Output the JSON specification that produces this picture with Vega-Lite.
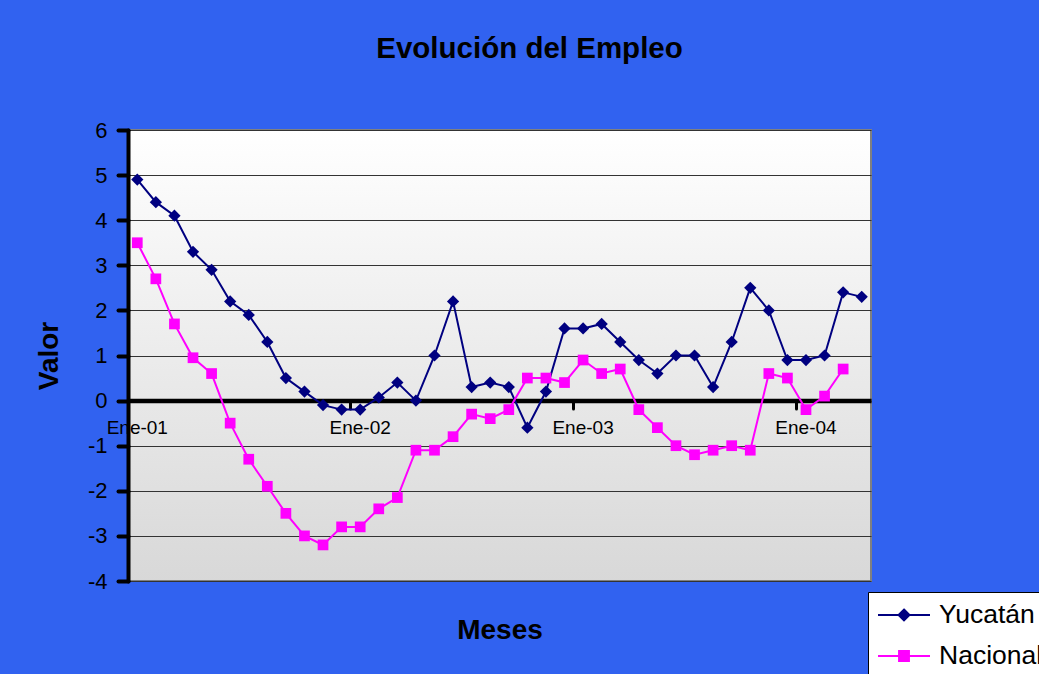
{
  "$schema": "https://vega.github.io/schema/vega-lite/v6.json",
  "width": 743,
  "height": 451,
  "autosize": {"type": "none"},
  "padding": {"left": 128, "top": 130, "right": 168, "bottom": 93},
  "background": "#3162F0",
  "title": {
    "text": "Evolución del Empleo",
    "font": "Liberation Sans",
    "fontSize": 29.5,
    "fontWeight": "bold",
    "color": "#000000",
    "anchor": "middle",
    "dx": 30,
    "offset": 55
  },
  "data": {
    "values": [
      {"mes": "Ene-01", "serie": "Yucatán", "valor": 4.9},
      {"mes": "Feb-01", "serie": "Yucatán", "valor": 4.4},
      {"mes": "Mar-01", "serie": "Yucatán", "valor": 4.1},
      {"mes": "Abr-01", "serie": "Yucatán", "valor": 3.3},
      {"mes": "May-01", "serie": "Yucatán", "valor": 2.9},
      {"mes": "Jun-01", "serie": "Yucatán", "valor": 2.2},
      {"mes": "Jul-01", "serie": "Yucatán", "valor": 1.9},
      {"mes": "Ago-01", "serie": "Yucatán", "valor": 1.3},
      {"mes": "Sep-01", "serie": "Yucatán", "valor": 0.5},
      {"mes": "Oct-01", "serie": "Yucatán", "valor": 0.2},
      {"mes": "Nov-01", "serie": "Yucatán", "valor": -0.1},
      {"mes": "Dic-01", "serie": "Yucatán", "valor": -0.2},
      {"mes": "Ene-02", "serie": "Yucatán", "valor": -0.2},
      {"mes": "Feb-02", "serie": "Yucatán", "valor": 0.07},
      {"mes": "Mar-02", "serie": "Yucatán", "valor": 0.4},
      {"mes": "Abr-02", "serie": "Yucatán", "valor": 0.0},
      {"mes": "May-02", "serie": "Yucatán", "valor": 1.0},
      {"mes": "Jun-02", "serie": "Yucatán", "valor": 2.2},
      {"mes": "Jul-02", "serie": "Yucatán", "valor": 0.3},
      {"mes": "Ago-02", "serie": "Yucatán", "valor": 0.4},
      {"mes": "Sep-02", "serie": "Yucatán", "valor": 0.3},
      {"mes": "Oct-02", "serie": "Yucatán", "valor": -0.6},
      {"mes": "Nov-02", "serie": "Yucatán", "valor": 0.2},
      {"mes": "Dic-02", "serie": "Yucatán", "valor": 1.6},
      {"mes": "Ene-03", "serie": "Yucatán", "valor": 1.6},
      {"mes": "Feb-03", "serie": "Yucatán", "valor": 1.7},
      {"mes": "Mar-03", "serie": "Yucatán", "valor": 1.3},
      {"mes": "Abr-03", "serie": "Yucatán", "valor": 0.9},
      {"mes": "May-03", "serie": "Yucatán", "valor": 0.6},
      {"mes": "Jun-03", "serie": "Yucatán", "valor": 1.0},
      {"mes": "Jul-03", "serie": "Yucatán", "valor": 1.0},
      {"mes": "Ago-03", "serie": "Yucatán", "valor": 0.3},
      {"mes": "Sep-03", "serie": "Yucatán", "valor": 1.3},
      {"mes": "Oct-03", "serie": "Yucatán", "valor": 2.5},
      {"mes": "Nov-03", "serie": "Yucatán", "valor": 2.0},
      {"mes": "Dic-03", "serie": "Yucatán", "valor": 0.9},
      {"mes": "Ene-04", "serie": "Yucatán", "valor": 0.9},
      {"mes": "Feb-04", "serie": "Yucatán", "valor": 1.0},
      {"mes": "Mar-04", "serie": "Yucatán", "valor": 2.4},
      {"mes": "Abr-04", "serie": "Yucatán", "valor": 2.3},
      {"mes": "Ene-01", "serie": "Nacional", "valor": 3.5},
      {"mes": "Feb-01", "serie": "Nacional", "valor": 2.7},
      {"mes": "Mar-01", "serie": "Nacional", "valor": 1.7},
      {"mes": "Abr-01", "serie": "Nacional", "valor": 0.95},
      {"mes": "May-01", "serie": "Nacional", "valor": 0.6},
      {"mes": "Jun-01", "serie": "Nacional", "valor": -0.5},
      {"mes": "Jul-01", "serie": "Nacional", "valor": -1.3},
      {"mes": "Ago-01", "serie": "Nacional", "valor": -1.9},
      {"mes": "Sep-01", "serie": "Nacional", "valor": -2.5},
      {"mes": "Oct-01", "serie": "Nacional", "valor": -3.0},
      {"mes": "Nov-01", "serie": "Nacional", "valor": -3.2},
      {"mes": "Dic-01", "serie": "Nacional", "valor": -2.8},
      {"mes": "Ene-02", "serie": "Nacional", "valor": -2.8},
      {"mes": "Feb-02", "serie": "Nacional", "valor": -2.4},
      {"mes": "Mar-02", "serie": "Nacional", "valor": -2.15},
      {"mes": "Abr-02", "serie": "Nacional", "valor": -1.1},
      {"mes": "May-02", "serie": "Nacional", "valor": -1.1},
      {"mes": "Jun-02", "serie": "Nacional", "valor": -0.8},
      {"mes": "Jul-02", "serie": "Nacional", "valor": -0.3},
      {"mes": "Ago-02", "serie": "Nacional", "valor": -0.4},
      {"mes": "Sep-02", "serie": "Nacional", "valor": -0.2},
      {"mes": "Oct-02", "serie": "Nacional", "valor": 0.5},
      {"mes": "Nov-02", "serie": "Nacional", "valor": 0.5},
      {"mes": "Dic-02", "serie": "Nacional", "valor": 0.4},
      {"mes": "Ene-03", "serie": "Nacional", "valor": 0.9},
      {"mes": "Feb-03", "serie": "Nacional", "valor": 0.6},
      {"mes": "Mar-03", "serie": "Nacional", "valor": 0.7},
      {"mes": "Abr-03", "serie": "Nacional", "valor": -0.2},
      {"mes": "May-03", "serie": "Nacional", "valor": -0.6},
      {"mes": "Jun-03", "serie": "Nacional", "valor": -1.0},
      {"mes": "Jul-03", "serie": "Nacional", "valor": -1.2},
      {"mes": "Ago-03", "serie": "Nacional", "valor": -1.1},
      {"mes": "Sep-03", "serie": "Nacional", "valor": -1.0},
      {"mes": "Oct-03", "serie": "Nacional", "valor": -1.1},
      {"mes": "Nov-03", "serie": "Nacional", "valor": 0.6},
      {"mes": "Dic-03", "serie": "Nacional", "valor": 0.5},
      {"mes": "Ene-04", "serie": "Nacional", "valor": -0.2},
      {"mes": "Feb-04", "serie": "Nacional", "valor": 0.1},
      {"mes": "Mar-04", "serie": "Nacional", "valor": 0.7}
    ]
  },
  "encoding": {
    "x": {
      "field": "mes",
      "type": "ordinal",
      "sort": null,
      "scale": {
        "type": "band",
        "paddingInner": 0,
        "paddingOuter": 0,
        "domain": ["Ene-01","Feb-01","Mar-01","Abr-01","May-01","Jun-01","Jul-01","Ago-01","Sep-01","Oct-01","Nov-01","Dic-01",
                   "Ene-02","Feb-02","Mar-02","Abr-02","May-02","Jun-02","Jul-02","Ago-02","Sep-02","Oct-02","Nov-02","Dic-02",
                   "Ene-03","Feb-03","Mar-03","Abr-03","May-03","Jun-03","Jul-03","Ago-03","Sep-03","Oct-03","Nov-03","Dic-03",
                   "Ene-04","Feb-04","Mar-04","Abr-04"]
      },
      "axis": {
        "values": ["Ene-01", "Ene-02", "Ene-03", "Ene-04"],
        "bandPosition": 0,
        "labelOffset": 0,
        "offset": -180.4,
        "domainColor": "#000000",
        "domainWidth": 4.5,
        "tickColor": "#000000",
        "tickWidth": 3,
        "tickSize": 8,
        "tickCap": "round",
        "labelFont": "Liberation Sans",
        "labelFontSize": 19,
        "labelColor": "#000000",
        "labelAngle": 0,
        "labelPadding": 10,
        "grid": false,
        "title": "Meses",
        "titleFont": "Liberation Sans",
        "titleFontSize": 28,
        "titleFontWeight": "bold",
        "titleColor": "#000000",
        "titleX": 371.5,
        "titleY": 230,
        "titleBaseline": "middle",
        "titleAlign": "center"
      }
    },
    "y": {
      "field": "valor",
      "type": "quantitative",
      "scale": {"domain": [-4, 6], "nice": false, "zero": false},
      "axis": {
        "values": [-4, -3, -2, -1, 0, 1, 2, 3, 4, 5, 6],
        "labelExpr": "'' + datum.value",
        "domainColor": "#000000",
        "domainWidth": 4,
        "domainCap": "round",
        "tickColor": "#000000",
        "tickWidth": 4,
        "tickSize": 10,
        "tickCap": "round",
        "labelFont": "Liberation Sans",
        "labelFontSize": 22,
        "labelColor": "#000000",
        "labelPadding": 11,
        "grid": true,
        "gridColor": "#333333",
        "gridWidth": 1.2,
        "title": "Valor",
        "titleFont": "Liberation Sans",
        "titleFontSize": 28,
        "titleFontWeight": "bold",
        "titleColor": "#000000",
        "titleX": -79,
        "titleY": 225.5,
        "titleBaseline": "middle",
        "titleAlign": "center",
        "titleAngle": -90
      }
    },
    "color": {
      "field": "serie",
      "type": "nominal",
      "scale": {"domain": ["Yucatán", "Nacional"], "range": ["#000080", "#FF00FF"]},
      "legend": {
        "orient": "none",
        "legendX": 740,
        "legendY": 462,
        "title": null,
        "fillColor": "#FFFFFF",
        "strokeColor": "#000000",
        "padding": 9,
        "labelFont": "Liberation Sans",
        "labelFontSize": 26.5,
        "labelColor": "#000000",
        "labelOffset": 21,
        "symbolSize": 676,
        "symbolOffset": 13,
        "symbolStrokeWidth": 2,
        "rowPadding": 13
      }
    },
    "shape": {
      "field": "serie",
      "type": "nominal",
      "scale": {
        "domain": ["Yucatán", "Nacional"],
        "range": ["M-2,0L2,0M0,-0.42L0.42,0L0,0.42L-0.42,0Z", "M-2,0L2,0M-0.38,-0.38L0.38,-0.38L0.38,0.38L-0.38,0.38Z"]
      },
      "legend": {
        "orient": "none",
        "legendX": 740,
        "legendY": 462,
        "title": null,
        "fillColor": "#FFFFFF",
        "strokeColor": "#000000",
        "padding": 9,
        "labelFont": "Liberation Sans",
        "labelFontSize": 26.5,
        "labelColor": "#000000",
        "labelOffset": 21,
        "symbolSize": 676,
        "symbolOffset": 13,
        "symbolStrokeWidth": 2,
        "rowPadding": 13
      }
    }
  },
  "layer": [
    {
      "mark": {"type": "line", "strokeWidth": 2}
    },
    {
      "transform": [{"filter": "datum.serie === 'Yucatán'"}],
      "mark": {"type": "point", "shape": "diamond", "filled": true, "size": 150, "opacity": 1, "color": "#000080"},
      "encoding": {"shape": {"value": "diamond"}, "color": {"value": "#000080"}}
    },
    {
      "transform": [{"filter": "datum.serie === 'Nacional'"}],
      "mark": {"type": "point", "shape": "square", "filled": true, "size": 115, "opacity": 1, "color": "#FF00FF"},
      "encoding": {"shape": {"value": "square"}, "color": {"value": "#FF00FF"}}
    },
    {
      "mark": {"type": "point", "filled": true, "opacity": 1, "strokeWidth": 2, "size": 0}
    }
  ],
  "config": {
    "view": {
      "fill": {
        "gradient": "linear",
        "x1": 0, "y1": 0, "x2": 0, "y2": 1,
        "stops": [{"offset": 0, "color": "#FFFFFF"}, {"offset": 1, "color": "#D8D8D8"}]
      },
      "stroke": "#808080",
      "strokeWidth": 2
    }
  }
}
